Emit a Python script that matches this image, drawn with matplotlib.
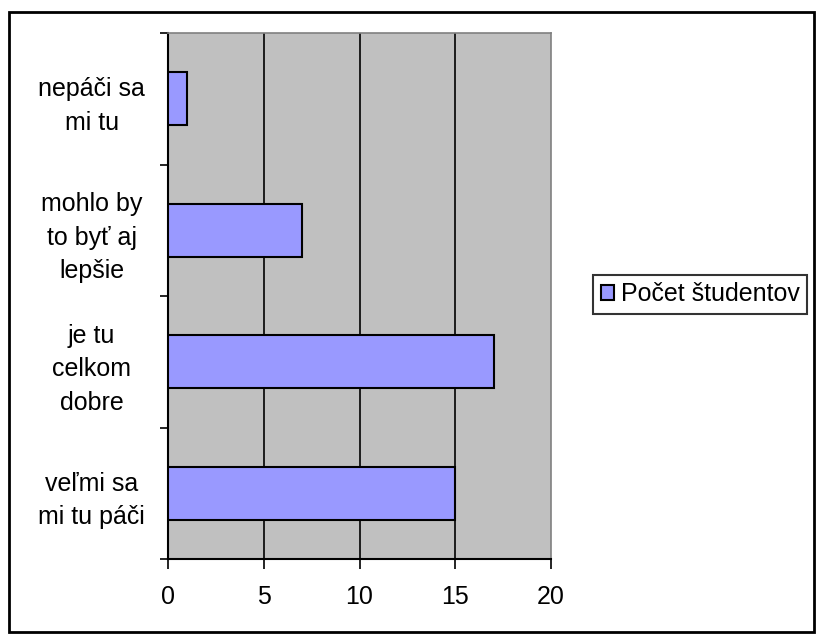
import matplotlib.pyplot as plt
from matplotlib.patches import Rectangle

plt.rcParams['font.family'] = ['Liberation Sans', 'DejaVu Sans']

# data (bottom to top)
categories = ["veľmi sa\nmi tu páči", "je tu\ncelkom\ndobre", "mohlo by\nto byť aj\nlepšie", "nepáči sa\nmi tu"]
values = [15, 17, 7, 1]
series_name = "Počet študentov"
x_ticks = [0, 5, 10, 15, 20]

fig = plt.figure(figsize=(8.16, 6.35), dpi=100)
ax = fig.add_axes([168 / 816, 1 - 559 / 635, (551 - 168) / 816, (559 - 33) / 635])
ax.set_facecolor('#C0C0C0')

pos = list(range(len(categories)))
ax.barh(pos, values, height=0.4, color='#9999FF', edgecolor='black', linewidth=1.5,
        label=series_name, zorder=3)

ax.set_xlim(0, 20)
ax.set_ylim(-0.5, len(categories) - 0.5)

# gridlines
for v in x_ticks[1:-1]:
    ax.axvline(v, color='black', linewidth=1.2, zorder=2)

ax.set_xticks(x_ticks)
ax.set_xticklabels([str(t) for t in x_ticks], fontsize=18)
ax.tick_params(axis='x', length=7, width=1.2, pad=12)

ax.set_yticks(pos)
ax.set_yticklabels(categories, fontsize=18, ha='center', multialignment='center', linespacing=1.5)
ax.tick_params(axis='y', which='major', length=0, pad=55)
ax.set_yticks([p - 0.5 for p in pos] + [len(pos) - 0.5], minor=True)
ax.tick_params(axis='y', which='minor', length=6, width=1.2)

for side in ['top', 'right']:
    ax.spines[side].set_color('#808080')
    ax.spines[side].set_linewidth(1.2)
for side in ['left', 'bottom']:
    ax.spines[side].set_color('black')
    ax.spines[side].set_linewidth(1.5)

leg = fig.legend(loc='center', bbox_to_anchor=(700 / 816, 1 - 294 / 635), fontsize=18,
                 frameon=True, fancybox=False, edgecolor='black', handlelength=0.55,
                 handleheight=0.55, handletextpad=0.25, borderpad=0.3, borderaxespad=0)
leg.get_frame().set_linewidth(1.5)

# outer frame
fig.patches.append(Rectangle((9 / 816, 1 - 632 / 635), (814 - 9) / 816, (632 - 12) / 635,
                             transform=fig.transFigure, fill=False, edgecolor='black',
                             linewidth=2))

fig.savefig('out.png', dpi=100)
